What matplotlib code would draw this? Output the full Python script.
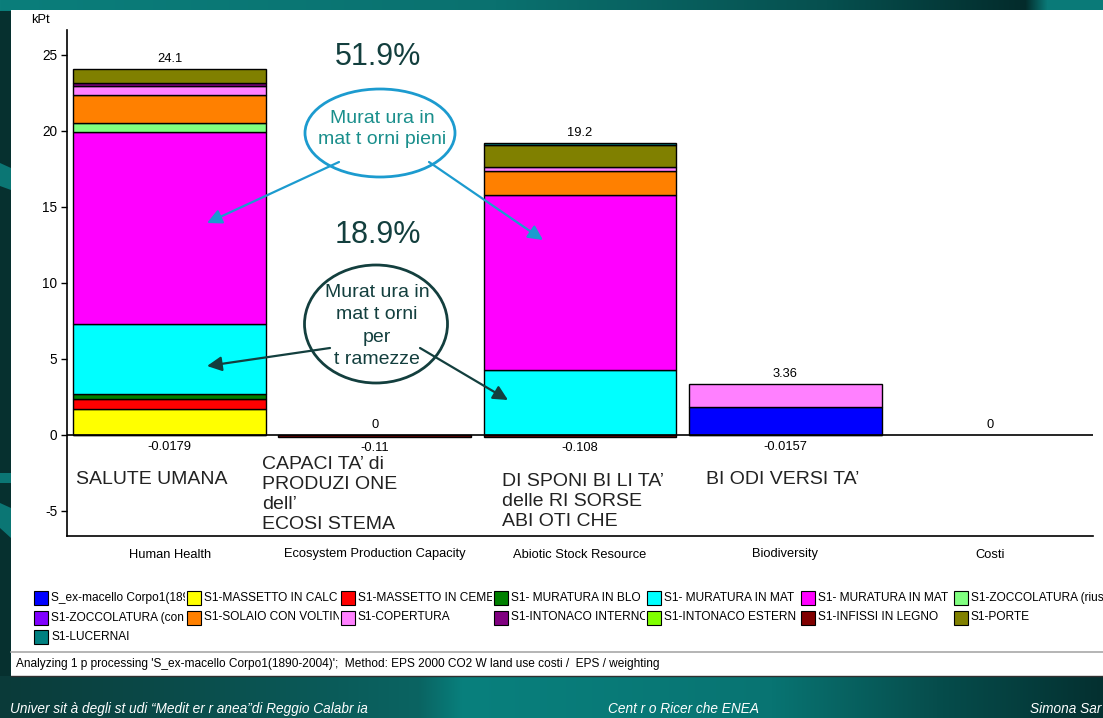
import numpy as np
import matplotlib
matplotlib.use("Agg")
import matplotlib.pyplot as plt
from matplotlib import font_manager
from matplotlib.patches import Ellipse, Rectangle, Polygon, FancyArrowPatch
from matplotlib.transforms import Bbox

W, H = 1103, 718

# ---------------------------------------------------------------- data
categories = ["Human Health", "Ecosystem Production Capacity",
              "Abiotic Stock Resource", "Biodiversity", "Costi"]

# single-score contributions (kPt) of each process, per damage category
ex_macello     = [0.00, 0.00, 0.00, 1.82, 0.00]
massetto_calc  = [1.71, 0.00, 0.00, 0.00, 0.00]
massetto_ceme  = [0.66, 0.00, 0.00, 0.00, 0.00]
muratura_blo   = [0.30, 0.00, 0.00, 0.00, 0.00]
muratura_tram  = [4.60, 0.00, 4.25, 0.00, 0.00]
muratura_pieni = [12.66, 0.00, 11.52, 0.00, 0.00]
zoccol_riuso   = [0.57, 0.00, 0.00, 0.00, 0.00]
zoccol_con     = [0.00, 0.00, 0.00, 0.00, 0.00]
solaio         = [1.85, 0.00, 1.61, 0.00, 0.00]
copertura      = [0.61, 0.00, 0.24, 1.54, 0.00]
intonaco_int   = [0.20, 0.00, 0.00, 0.00, 0.00]
intonaco_est   = [0.00, 0.00, 0.00, 0.00, 0.00]
infissi        = [-0.0179, -0.11, -0.108, -0.0157, 0.00]
porte          = [0.94, 0.00, 1.49, 0.00, 0.00]
lucernai       = [0.00, 0.00, 0.09, 0.00, 0.00]

series = [ex_macello, massetto_calc, massetto_ceme, muratura_blo,
          muratura_tram, muratura_pieni, zoccol_riuso, zoccol_con, solaio,
          copertura, intonaco_int, intonaco_est, infissi, porte, lucernai]

legend_labels = ["S_ex-macello Corpo1(189", "S1-MASSETTO IN CALC",
                 "S1-MASSETTO IN CEME", "S1- MURATURA IN BLO",
                 "S1- MURATURA IN MAT", "S1- MURATURA IN MAT",
                 "S1-ZOCCOLATURA (riuso", "S1-ZOCCOLATURA (con",
                 "S1-SOLAIO CON VOLTIN", "S1-COPERTURA",
                 "S1-INTONACO INTERNO", "S1-INTONACO ESTERN",
                 "S1-INFISSI IN LEGNO", "S1-PORTE", "S1-LUCERNAI"]

series_colors = ["#0000ff", "#ffff00", "#ff0000", "#008000", "#00ffff",
                 "#ff00ff", "#80ff80", "#8000ff", "#ff8000", "#ff80ff",
                 "#800080", "#80ff00", "#800000", "#808000", "#008080"]

yticks = [-5, 0, 5, 10, 15, 20, 25]

# ---------------------------------------------------------------- fonts
available = {f.name for f in font_manager.fontManager.ttflist}
SANS = "Liberation Sans" if "Liberation Sans" in available else "DejaVu Sans"
NARROW = "Liberation Sans Narrow" if "Liberation Sans Narrow" in available else SANS
small = 10.5 if NARROW != SANS else 9.3
legend_size = 10 if NARROW != SANS else 8.6

fig = plt.figure(figsize=(W / 100, H / 100), dpi=100)

# ---------------------------------------------------------------- slide background
bg = fig.add_axes([0, 0, 1, 1], zorder=0)
bg.set_xlim(0, W)
bg.set_ylim(H, 0)
bg.axis("off")


def hex_rgb(h):
    h = h.lstrip("#")
    return np.array([int(h[i:i + 2], 16) for i in (0, 2, 4)]) / 255.0


def hgrad(stops):
    pos = [p for p, _ in stops]
    cols = np.array([hex_rgb(c) for _, c in stops])
    xs = np.linspace(0, 1, W)
    return np.stack([np.interp(xs, pos, cols[:, k]) for k in range(3)], axis=1)


img = np.empty((H, W, 3))
img[:] = hex_rgb("#06302f")
img[:11] = hgrad([(0, "#0b7e7b"), (0.45, "#0a716f"), (0.75, "#06504f"),
                  (0.93, "#032b2b"), (0.95, "#0a7a78"), (1, "#0a7a78")])
img[676:] = hgrad([(0, "#0a3a39"), (0.38, "#0a6462"), (0.42, "#08807d"),
                   (0.7, "#087472"), (0.85, "#064d4c"), (1, "#043030")])
bg.imshow(img, extent=(0, W, H, 0), aspect="auto", interpolation="bilinear")

# decorative shapes on the left strip
for pts in ([(0, 163), (11, 168), (11, 190), (0, 186)],
            [(0, 473), (11, 473), (11, 483), (0, 483)],
            [(0, 503), (11, 508), (11, 538), (0, 528)]):
    bg.add_patch(Polygon(pts, closed=True, color="#0b7674", lw=0))

# white chart window
bg.add_patch(Rectangle((11, 10), W - 11, 666, facecolor="white", edgecolor="none"))
bg.plot([11, W], [651.5, 651.5], color="#a8a8a8", lw=1.2)
bg.plot([11, W], [676, 676], color="#303030", lw=1)

# ---------------------------------------------------------------- chart
px_per_unit = 15.2
zero_px = 435
ax = fig.add_axes([67 / W, 1 - 536 / H, (1093 - 67) / W, (536 - 30) / H], zorder=1)
ax.set_facecolor("none")
ax.set_xlim(-0.5, len(categories) - 0.5)
ax.set_ylim((zero_px - 536) / px_per_unit, (zero_px - 30) / px_per_unit)

x = np.arange(len(categories))
bar_w = 0.94
pos_base = np.zeros(len(categories))
neg_base = np.zeros(len(categories))
for vals, col in zip(series, series_colors):
    v = np.array(vals, dtype=float)
    pos = np.where(v > 0, v, 0)
    neg = np.where(v < 0, v, 0)
    if pos.any():
        m = pos > 0
        ax.bar(x[m], pos[m], bar_w, bottom=pos_base[m], color=col,
               edgecolor="black", linewidth=1.0, zorder=2)
        pos_base += pos
    if neg.any():
        m = neg < 0
        ax.bar(x[m], neg[m], bar_w, bottom=neg_base[m], color=col,
               edgecolor="black", linewidth=1.0, zorder=2)
        neg_base += neg

for xi, top, bot in zip(x, pos_base, neg_base):
    ax.annotate(f"{top:.3g}", (xi, top), xytext=(0, 3), textcoords="offset points",
                ha="center", va="bottom", fontsize=small, family=NARROW)
    if bot < 0:
        ax.annotate(f"{bot:.3g}", (xi, bot), xytext=(0, -4), textcoords="offset points",
                    ha="center", va="top", fontsize=small, family=NARROW)

ax.axhline(0, color="black", lw=1.2, zorder=3)
for s in ("top", "right"):
    ax.spines[s].set_visible(False)
ax.spines["left"].set_linewidth(1.2)
ax.spines["bottom"].set_linewidth(1.2)
ax.set_yticks(yticks)
ax.set_yticklabels([str(t) for t in yticks], family=NARROW, fontsize=small + 0.5)
ax.tick_params(axis="y", length=4, width=1, pad=3)
ax.set_xticks(x)
ax.set_xticklabels(categories, family=NARROW, fontsize=small)
ax.tick_params(axis="x", length=0, pad=9)

# ---------------------------------------------------------------- overlay
ov = fig.add_axes([0, 0, 1, 1], zorder=3)
ov.set_xlim(0, W)
ov.set_ylim(H, 0)
ov.axis("off")

ov.text(40, 20, "kPt", ha="center", va="center", family=NARROW, fontsize=small)

dark = "#133f3e"
blue = "#1c9bcf"
teal_txt = "#1a8f8c"

ov.text(378, 57, "51.9%", ha="center", va="center", family=SANS, fontsize=22, color=dark)
ov.text(378, 235, "18.9%", ha="center", va="center", family=SANS, fontsize=22, color=dark)

ov.add_patch(Ellipse((380, 133), 150, 88, fill=False, edgecolor=blue, lw=2))
ov.text(382, 129, "Murat ura in\nmat t orni pieni", ha="center", va="center",
        family=SANS, fontsize=14, color=teal_txt, linespacing=1.36)
ov.add_patch(Ellipse((376, 324), 143, 118, fill=False, edgecolor=dark, lw=2))
ov.text(377, 326, "Murat ura in\nmat t orni\nper\nt ramezze", ha="center", va="center",
        family=SANS, fontsize=14, color=dark, linespacing=1.4)

for (x0, y0), (x1, y1), c in (((339, 162), (207, 223), blue),
                              ((429, 162), (543, 240), blue),
                              ((330, 348), (207, 366), dark),
                              ((420, 348), (508, 400), dark)):
    ov.add_patch(FancyArrowPatch((x0, y0), (x1, y1), arrowstyle="-|>",
                                 mutation_scale=22, color=c, lw=1.6,
                                 shrinkA=0, shrinkB=0))

txt_col = "#222222"
ov.text(76, 480, "SALUTE UMANA", ha="left", va="center", family=SANS,
        fontsize=14, color=txt_col)
ov.text(262, 456, "CAPACI TA’ di\nPRODUZI ONE\ndell’\nECOSI STEMA", ha="left",
        va="top", family=SANS, fontsize=14, color=txt_col, linespacing=1.22)
ov.text(502, 473, "DI SPONI BI LI TA’\ndelle RI SORSE\nABI OTI CHE", ha="left",
        va="top", family=SANS, fontsize=14, color=txt_col, linespacing=1.22)
ov.text(706, 480, "BI ODI VERSI TA’", ha="left", va="center", family=SANS,
        fontsize=14, color=txt_col)

# legend grid, each label cut at its cell edge
col_x0, col_dx = 34, 153.3
row_y0, row_dy = 598, 19.5
for i, (lab, col) in enumerate(zip(legend_labels, series_colors)):
    r, c = divmod(i, 7)
    lx = col_x0 + c * col_dx
    ly = row_y0 + r * row_dy
    ov.add_patch(Rectangle((lx, ly - 7), 14, 14, facecolor=col, edgecolor="black", lw=0.8))
    t = ov.text(lx + 17, ly, lab, ha="left", va="center", family=NARROW,
                fontsize=legend_size)
    right = min(lx + col_dx - 2, W)
    t.set_clip_box(Bbox([[lx + 16, H - (ly + 11)], [right, H - (ly - 11)]]))
    t.set_clip_on(True)

ov.text(16, 664, "Analyzing 1 p processing 'S_ex-macello Corpo1(1890-2004)';  "
        "Method: EPS 2000 CO2 W land use costi /  EPS / weighting",
        ha="left", va="center", family=NARROW, fontsize=small - 0.7)

# footer
for fx, ftxt in ((10, "Univer sit à degli st udi “Medit er r anea”di Reggio Calabr ia"),
                 (608, "Cent r o Ricer che ENEA"),
                 (1030, "Simona Sar")):
    ov.text(fx, 709, ftxt, ha="left", va="center", family=SANS, style="italic",
            fontsize=9.8, color="white")

fig.savefig("out.png", dpi=100)
